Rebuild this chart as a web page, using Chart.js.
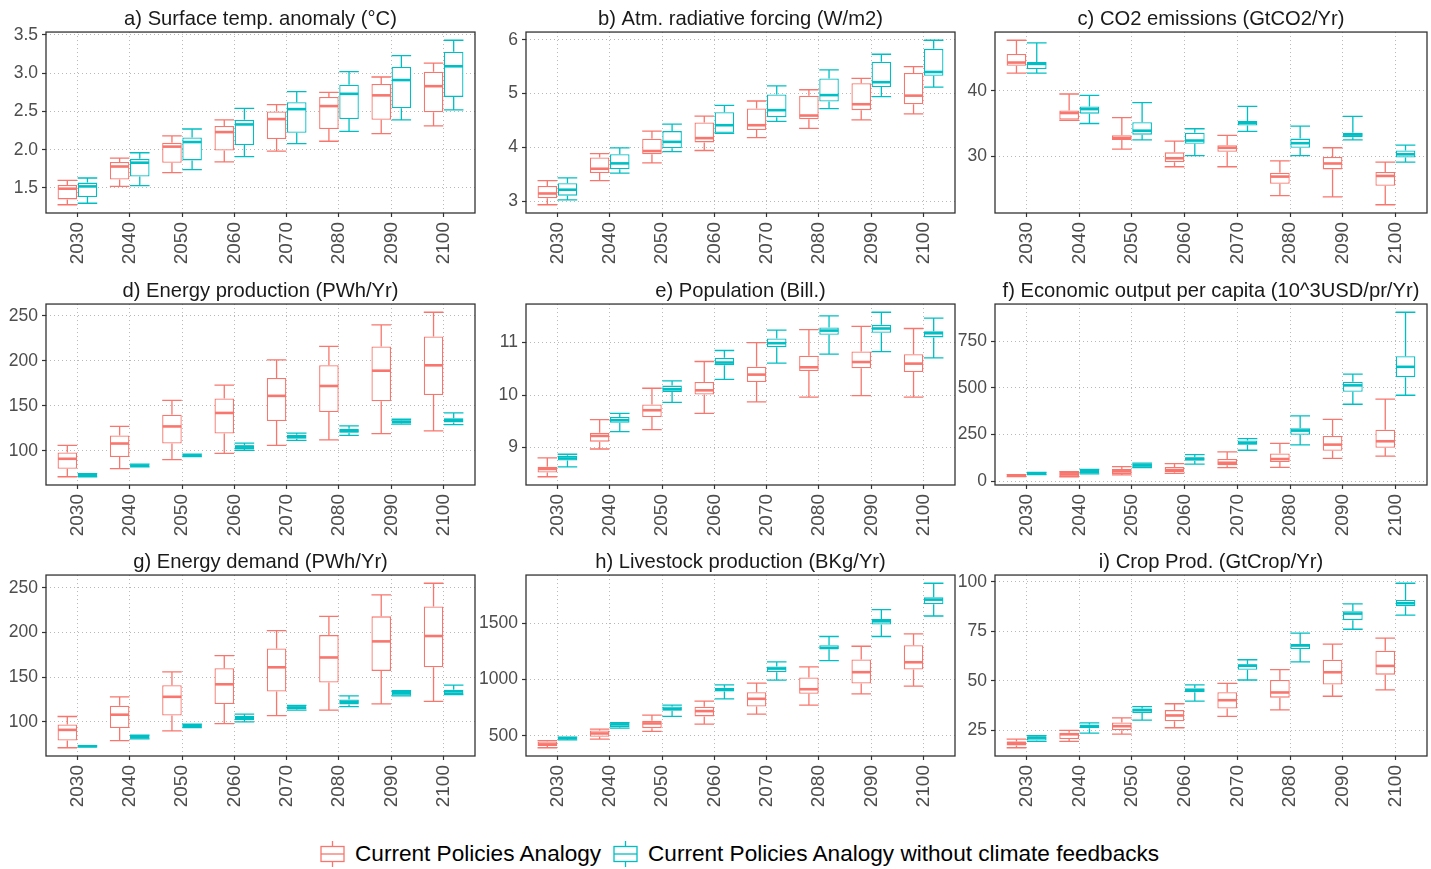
<!DOCTYPE html>
<html>
<head>
<meta charset="utf-8">
<script src="https://cdn.jsdelivr.net/npm/chart.js@4.4.1/dist/chart.umd.min.js"></script>
<style>
html,body{margin:0;padding:0;background:#fff;}
#wrap{position:relative;width:1431px;height:869px;overflow:hidden;background:#fff;}
#wrap canvas{position:absolute;}
.leg{position:absolute;top:838px;height:32px;display:flex;align-items:center;font-family:"Liberation Sans",Arial,sans-serif;font-size:22.6px;color:#000;white-space:nowrap;}
.leg svg{margin-right:10px;}
</style>
</head>
<body>
<div id="wrap">
  <div class="leg" style="left:320px;">
    <svg width="25" height="26" viewBox="0 0 25 26"><line x1="12.5" y1="0" x2="12.5" y2="26" stroke="#F8766D" stroke-width="1.3"/><rect x="1" y="5.5" width="23" height="15" fill="#fff" stroke="#F8766D" stroke-width="1.3"/><line x1="1" y1="13" x2="24" y2="13" stroke="#F8766D" stroke-width="1.3"/></svg>
    <span>Current Policies Analogy</span>
  </div>
  <div class="leg" style="left:613px;">
    <svg width="25" height="26" viewBox="0 0 25 26"><line x1="12.5" y1="0" x2="12.5" y2="26" stroke="#00BFC4" stroke-width="1.3"/><rect x="1" y="5.5" width="23" height="15" fill="#fff" stroke="#00BFC4" stroke-width="1.3"/><line x1="1" y1="13" x2="24" y2="13" stroke="#00BFC4" stroke-width="1.3"/></svg>
    <span>Current Policies Analogy without climate feedbacks</span>
  </div>
</div>
<script>
// ---------- DATA (each row: [min, q1, median, q3, max]) ----------
const years = ['2030','2040','2050','2060','2070','2080','2090','2100'];
const seriesNames = ['Current Policies Analogy', 'Current Policies Analogy without climate feedbacks'];

const tempCP = [[1.28,1.35,1.49,1.54,1.60],[1.52,1.61,1.78,1.84,1.89],[1.70,1.83,2.04,2.09,2.18],[1.84,1.99,2.23,2.31,2.39],[1.98,2.14,2.40,2.50,2.59],[2.11,2.27,2.57,2.69,2.75],[2.21,2.39,2.71,2.86,2.95],[2.31,2.49,2.83,3.02,3.13]];
const tempNF = [[1.30,1.38,1.52,1.57,1.63],[1.53,1.65,1.83,1.88,1.96],[1.74,1.86,2.10,2.16,2.27],[1.91,2.06,2.33,2.39,2.54],[2.08,2.22,2.53,2.62,2.76],[2.24,2.40,2.73,2.85,3.02],[2.39,2.54,2.91,3.08,3.23],[2.52,2.69,3.09,3.28,3.43]];

const rfCP = [[2.93,3.05,3.14,3.28,3.38],[3.38,3.52,3.60,3.81,3.88],[3.71,3.87,3.93,4.16,4.30],[3.94,4.09,4.17,4.46,4.58],[4.18,4.32,4.41,4.72,4.86],[4.35,4.52,4.59,4.96,5.07],[4.51,4.69,4.80,5.19,5.28],[4.62,4.80,4.96,5.38,5.50]];
const rfNF = [[3.02,3.10,3.21,3.33,3.43],[3.52,3.59,3.70,3.87,3.99],[3.92,3.98,4.10,4.30,4.43],[4.26,4.27,4.41,4.65,4.78],[4.48,4.56,4.69,4.98,5.14],[4.72,4.85,4.97,5.28,5.44],[4.94,5.12,5.21,5.59,5.73],[5.12,5.33,5.40,5.83,5.99]];

const co2CP = [[42.7,43.8,44.3,45.6,47.7],[35.5,35.6,36.6,37.0,39.5],[31.1,32.5,32.8,33.2,35.9],[28.4,29.1,29.7,30.6,32.3],[28.4,30.7,31.3,31.7,33.2],[24.0,25.8,26.9,27.5,29.3],[23.8,28.0,28.9,29.9,31.3],[22.6,25.5,27.0,27.6,29.1]];
const co2NF = [[42.7,43.3,44.1,44.4,47.3],[35.0,36.5,37.2,37.6,39.3],[32.5,33.3,33.9,35.2,38.2],[30.1,31.9,32.4,33.6,34.2],[33.8,34.7,35.1,35.4,37.6],[30.1,31.3,32.0,32.7,34.6],[32.5,32.9,33.3,33.6,36.1],[29.1,29.8,30.3,30.9,31.7]];

const epCP = [[71,80,91,98,106],[80,93,108,117,127],[90,108,127,140,156],[97,119,142,158,173],[106,133,161,181,201],[112,143,172,195,216],[119,155,189,216,240],[122,162,195,227,254]];
const epNF = [[71,71.3,72.7,74.2,74.6],[82,82.5,83.4,84.5,85],[93.5,94,94.8,95.8,96.3],[100.5,102,104.5,106,108.5],[111.5,113.3,115.5,117.7,119.6],[117,119.9,122,124.4,127.7],[129.5,130.5,132,134,135],[129,131.5,134,136,142]];

const popCP = [[8.44,8.52,8.59,8.63,8.80],[8.97,9.11,9.22,9.28,9.53],[9.34,9.58,9.71,9.82,10.13],[9.65,10.01,10.09,10.25,10.64],[9.87,10.25,10.39,10.54,11.00],[9.96,10.46,10.53,10.75,11.25],[9.99,10.51,10.63,10.83,11.31],[9.96,10.44,10.60,10.78,11.27]];
const popNF = [[8.63,8.75,8.79,8.84,8.87],[9.30,9.47,9.52,9.58,9.65],[9.86,10.06,10.11,10.18,10.27],[10.30,10.57,10.62,10.71,10.85],[10.61,10.91,10.99,11.08,11.24],[10.78,11.15,11.23,11.29,11.51],[10.83,11.19,11.27,11.34,11.58],[10.71,11.10,11.18,11.22,11.47]];

const gdpCP = [[25,28,31,34,36],[24,25,37,51,52],[34,39,53,65,78],[42,48,60,76,94],[73,85,99,119,157],[74,103,119,149,203],[122,163,196,242,331],[134,179,214,276,439]];
const gdpNF = [[36,39,42,45,48],[39,41,51,62,64],[73,74,85,95,97],[92,110,120,129,143],[166,195,205,218,228],[195,249,271,283,350],[412,479,513,532,573],[460,557,612,669,904]];

const edCP = [[71,79,91,97,106],[79,93,108,118,128],[90,107,128,141,156],[98,120,142,160,174],[107,134,161,182,202],[113,144,172,197,218],[120,157,190,218,242],[123,161,196,229,255]];
const edNF = [[72,72.3,72.7,73.1,73.4],[81,81.5,83,84.2,85],[93.5,94,95.4,96.8,97.3],[100,102,104,106.5,108.7],[113,114,116,117.5,118.5],[117,119.5,122.5,125,129],[129,129.5,132,134.5,135],[130.6,131,134,136,141]];

const lsCP = [[395,410,425,450,458],[472,493,522,549,560],[540,569,611,634,684],[605,673,720,758,808],[693,761,829,888,968],[773,873,914,1018,1112],[873,965,1065,1177,1295],[941,1088,1153,1304,1404]];
const lsNF = [[465,472,480,485,490],[569,578,602,611,617],[673,723,740,761,773],[829,894,909,926,953],[994,1065,1097,1115,1156],[1168,1268,1280,1304,1381],[1381,1487,1516,1537,1619],[1563,1667,1708,1729,1853]];

const cropCP = [[16.2,17.4,18.6,19.4,20.6],[19.4,20.6,23.0,23.8,25.0],[23.1,25.0,27.1,29.0,31.3],[26.3,29.6,32.5,35.2,38.4],[32.0,36.0,40.2,44.2,48.7],[35.3,41.5,44.1,50.4,55.6],[42.2,48.1,54.3,60.6,68.5],[45.4,53.1,57.5,65.2,71.5]];
const cropNF = [[19.4,19.9,21.3,21.9,22.3],[23.6,26.1,27.0,28.0,28.8],[30.2,33.8,35.2,36.0,37.0],[39.7,44.2,45.2,46.2,47.9],[50.4,55.6,57.6,58.3,60.6],[59.5,66.0,67.8,68.5,74.0],[76.0,80.6,83.9,85.1,88.8],[83.1,87.6,89.1,90.8,99.2]];

const tempTicks = [1.5,2.0,2.5,3.0,3.5];
const rfTicks = [3,4,5,6];
const co2Ticks = [30,40];
const epTicks = [100,150,200,250];
const popTicks = [9,10,11];
const gdpTicks = [0,250,500,750];
const edTicks = [100,150,200,250];
const lsTicks = [500,1000,1500];
const cropTicks = [25,50,75,100];

const titles = ['a) Surface temp. anomaly (°C)','b) Atm. radiative forcing (W/m2)','c) CO2 emissions (GtCO2/Yr)',
  'd) Energy production (PWh/Yr)','e) Population (Bill.)','f) Economic output per capita (10^3USD/pr/Yr)',
  'g) Energy demand (PWh/Yr)','h) Livestock production (BKg/Yr)','i) Crop Prod. (GtCrop/Yr)'];

// ---------- STYLE / LAYOUT ----------
const RED = '#F8766D', CYAN = '#00BFC4';
const FONT = '"Liberation Sans", Arial, sans-serif';
Chart.defaults.font.family = FONT;

const cols = [{left:0,w:480,yw:46,padR:5},{left:470,w:490,yw:56,padR:5},{left:945,w:486,yw:50,padR:4}];
const rows = [0,272,543];

const panels = [
  {cp:tempCP,nf:tempNF,ticks:tempTicks,fmt:v=>v.toFixed(1)},
  {cp:rfCP,nf:rfNF,ticks:rfTicks},
  {cp:co2CP,nf:co2NF,ticks:co2Ticks},
  {cp:epCP,nf:epNF,ticks:epTicks},
  {cp:popCP,nf:popNF,ticks:popTicks},
  {cp:gdpCP,nf:gdpNF,ticks:gdpTicks},
  {cp:edCP,nf:edNF,ticks:edTicks},
  {cp:lsCP,nf:lsNF,ticks:lsTicks},
  {cp:cropCP,nf:cropNF,ticks:cropTicks}
];

const boxPlugin = {
  id: 'boxWhiskers',
  afterDatasetsDraw(chart) {
    const ctx = chart.ctx, ys = chart.scales.y;
    const a = chart.chartArea;
    ctx.save();
    ctx.beginPath(); ctx.rect(a.left, a.top, a.right - a.left, a.bottom - a.top); ctx.clip();
    chart.data.datasets.forEach((ds, di) => {
      const meta = chart.getDatasetMeta(di);
      meta.data.forEach((el, i) => {
        const s = ds.stats[i];
        const {x, width} = el.getProps(['x','width'], true);
        const half = width / 2;
        const p = s.map(v => ys.getPixelForValue(v));
        ctx.strokeStyle = ds.borderColor;
        ctx.lineWidth = ds.borderWidth;
        ctx.beginPath();
        ctx.moveTo(x, p[1]); ctx.lineTo(x, p[0]);
        ctx.moveTo(x, p[3]); ctx.lineTo(x, p[4]);
        ctx.moveTo(x - half, p[0]); ctx.lineTo(x + half, p[0]);
        ctx.moveTo(x - half, p[4]); ctx.lineTo(x + half, p[4]);
        ctx.stroke();
        ctx.lineWidth = 2.6;
        ctx.beginPath();
        ctx.moveTo(x - half + 0.5, p[2]); ctx.lineTo(x + half - 0.5, p[2]);
        ctx.stroke();
      });
    });
    ctx.restore();
  },
  afterDraw(chart) {
    const a = chart.chartArea, ctx = chart.ctx;
    ctx.save();
    ctx.strokeStyle = '#333';
    ctx.lineWidth = 1.3;
    ctx.strokeRect(a.left, a.top, a.right - a.left, a.bottom - a.top);
    ctx.restore();
  }
};

const wrap = document.getElementById('wrap');

panels.forEach((p, idx) => {
  const c = cols[idx % 3], top = rows[Math.floor(idx / 3)];
  const cv = document.createElement('canvas');
  cv.width = c.w; cv.height = 271;
  cv.style.left = c.left + 'px'; cv.style.top = top + 'px';
  cv.style.width = c.w + 'px'; cv.style.height = '271px';
  wrap.appendChild(cv);
  const all = p.cp.concat(p.nf).flat();
  const lo = Math.min(...all), hi = Math.max(...all), pad = (hi - lo) * 0.05;
  const mk = (arr, color, name) => ({
    label: name,
    data: arr.map((s, i) => ({x: i + 1, y: [s[1], s[3]]})),
    stats: arr,
    borderColor: color,
    backgroundColor: '#ffffff',
    borderWidth: 1.3,
    borderSkipped: false,
    categoryPercentage: 0.77,
    barPercentage: 0.97
  });
  const gridOpts = {color: '#b8b8b8', lineWidth: 1, tickLength: 4, tickColor: '#333', tickWidth: 1.2, tickBorderDash: [], offset: false};
  new Chart(cv, {
    type: 'bar',
    data: {datasets: [mk(p.cp, RED, seriesNames[0]), mk(p.nf, CYAN, seriesNames[1])]},
    options: {
      responsive: false,
      animation: false,
      devicePixelRatio: 1,
      layout: {padding: {left: 0, right: c.padR, top: 0, bottom: 0}},
      plugins: {
        legend: {display: false},
        tooltip: {enabled: false},
        title: {display: true, text: titles[idx], fullSize: false, color: '#1a1a1a',
          font: {family: FONT, size: 20.2, weight: 'normal'}, padding: {top: 7.5, bottom: 0.3}}
      },
      scales: {
        x: {
          type: 'linear', min: 0.4, max: 8.6, offset: false,
          afterBuildTicks: s => { s.ticks = years.map((_, i) => ({value: i + 1})); },
          afterFit: s => { s.height = 58; },
          ticks: {callback: v => years[v - 1], minRotation: 90, maxRotation: 90, autoSkip: false,
            color: '#4d4d4d', font: {size: 19}, padding: 5},
          grid: gridOpts,
          border: {display: false, dash: [1, 3]}
        },
        y: {
          min: lo - pad, max: hi + pad,
          afterBuildTicks: s => { s.ticks = p.ticks.map(v => ({value: v})); },
          afterFit: s => { s.width = c.yw; },
          ticks: {callback: v => (p.fmt ? p.fmt(v) : String(v)), color: '#4d4d4d', font: {size: 17.5}, padding: 4},
          grid: gridOpts,
          border: {display: false, dash: [1, 3]}
        }
      }
    },
    plugins: [boxPlugin]
  });
});
</script>
</body>
</html>
